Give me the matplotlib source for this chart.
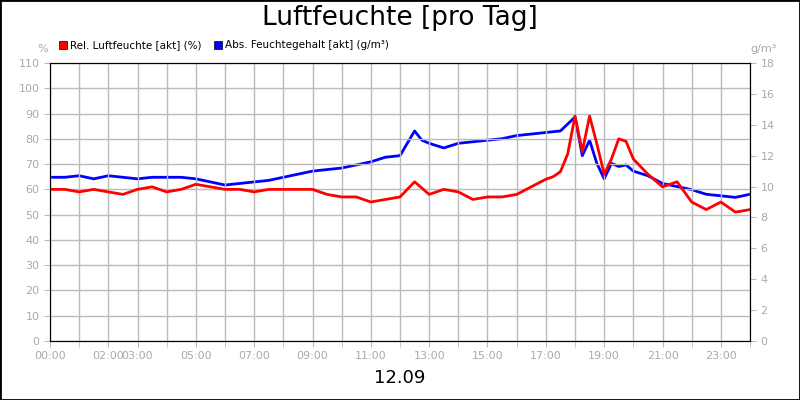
import matplotlib
matplotlib.use("Agg")
import matplotlib.pyplot as plt
from matplotlib.patches import Rectangle

hours_rel = [0,0.5,1,1.5,2,2.5,3,3.5,4,4.5,5,5.5,6,6.5,7,7.5,8,8.5,9,9.5,10,10.5,11,11.5,12,12.5,13,13.5,14,14.5,15,15.5,16,16.5,17,17.25,17.5,17.75,18,18.25,18.5,18.75,19,19.25,19.5,19.75,20,20.5,21,21.5,22,22.5,23,23.5,24]
rel = [60,60,59,60,59,58,60,61,59,60,62,61,60,60,59,60,60,60,60,58,57,57,55,56,57,63,58,60,59,56,57,57,58,61,64,65,67,74,89,75,89,78,66,72,80,79,72,66,61,63,55,52,55,51,52]
hours_abs = [0,0.5,1,1.5,2,2.5,3,3.5,4,4.5,5,5.5,6,6.5,7,7.5,8,8.5,9,9.5,10,10.5,11,11.5,12,12.25,12.5,12.75,13,13.5,14,14.5,15,15.5,16,16.5,17,17.5,18,18.25,18.5,18.75,19,19.25,19.5,19.75,20,20.5,21,21.5,22,22.5,23,23.5,24]
absv = [10.6,10.6,10.7,10.5,10.7,10.6,10.5,10.6,10.6,10.6,10.5,10.3,10.1,10.2,10.3,10.4,10.6,10.8,11.0,11.1,11.2,11.4,11.6,11.9,12.0,12.8,13.6,13.0,12.8,12.5,12.8,12.9,13.0,13.1,13.3,13.4,13.5,13.6,14.5,12.0,13.0,11.5,10.5,11.5,11.3,11.4,11.0,10.7,10.2,10.0,9.8,9.5,9.4,9.3,9.5]
tick_hours = [0,2,3,5,7,9,11,13,15,17,19,21,23]
tick_labels = ["00:00","02:00","03:00","05:00","07:00","09:00","11:00","13:00","15:00","17:00","19:00","21:00","23:00"]

fig = plt.figure(figsize=(8,4), dpi=100)
fig.patches.append(Rectangle((0,0),1,1,transform=fig.transFigure,fill=False,edgecolor="black",lw=2))
ax = fig.add_axes([0.0625,0.1475,0.875,0.695])
ax2 = ax.twinx()
gc = "#bbbbbb"; tc = "#aaaaaa"
ax.set_xlim(0,24); ax.set_ylim(0,110); ax2.set_ylim(0,18)
ax.set_xticks(range(25), minor=True)
ax.set_xticks(tick_hours); ax.set_xticklabels(tick_labels)
ax.set_yticks(range(0,111,10)); ax2.set_yticks(range(0,19,2))
ax.grid(True, which="both", color=gc, lw=1)
ax.set_axisbelow(True)
for a in (ax, ax2):
    a.tick_params(colors=gc, labelcolor=tc, labelsize=8, length=4, which="both")
    for s in a.spines.values(): s.set_color("black")
ax.tick_params(axis="x", which="minor", length=4)
ax2.plot(hours_abs, absv, color="#0000ff", lw=2)
ax.plot(hours_rel, rel, color="#ff0000", lw=2)
ax.set_zorder(ax2.get_zorder()+1); ax.patch.set_visible(False)
fig.text(0.5,0.955,"Luftfeuchte [pro Tag]",ha="center",va="center",fontsize=19)
fig.text(0.5,0.055,"12.09",ha="center",va="center",fontsize=13)
fig.text(0.053,0.877,"%",ha="center",va="center",fontsize=8,color=tc)
fig.text(0.955,0.877,"g/m³",ha="center",va="center",fontsize=8,color=tc)
fig.patches.append(Rectangle((0.074,0.877),0.01,0.02,transform=fig.transFigure,facecolor="#ff0000",edgecolor="black",lw=0.5))
fig.text(0.087,0.887,"Rel. Luftfeuchte [akt] (%)",va="center",fontsize=7.5)
fig.patches.append(Rectangle((0.268,0.877),0.01,0.02,transform=fig.transFigure,facecolor="#0000ff",edgecolor="black",lw=0.5))
fig.text(0.281,0.887,"Abs. Feuchtegehalt [akt] (g/m³)",va="center",fontsize=7.5)
fig.savefig("out.png", dpi=100)
